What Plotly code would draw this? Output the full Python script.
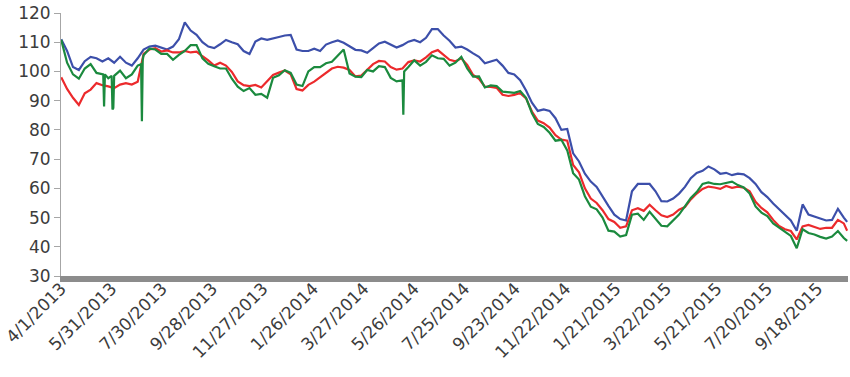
import pandas as pd
import plotly.graph_objects as go

# Weekly observations starting 4/1/2013 (every 7 days)
start_date = "2013-04-01"
n_weeks = 134

blue = [
    111, 107, 101.5, 100.5, 103.5, 105, 104.5, 103.4, 104.5, 103,
    105, 103, 102, 104.5, 107.5, 108.5, 108.8, 108.2, 107.5, 108.5,
    111, 116.8, 114, 112.5, 110, 108.5, 108, 109.3, 110.8, 110,
    109.3, 107, 106, 110.2, 111.3, 110.8, 111.2, 111.8, 112.3, 112.5,
    107.5, 107, 107, 107.8, 107, 109.2, 110, 110.6, 109.8, 108.5,
    107.4, 107.2, 106.4, 108, 109.6, 110.2, 109.2, 108.2, 109, 110.2,
    110.8, 110, 111.5, 114.5, 114.5, 112.3, 110.5, 108.2, 108.5, 107.5,
    106.2, 105, 102.8, 103.3, 104, 102, 99.5, 99, 97, 93.5,
    89.3, 86.5, 87, 86.5, 84, 80, 80.3, 72, 69.2, 65,
    62.3, 60.5, 57, 54, 51, 49.5, 49, 59, 61.5, 61.5,
    61.5, 59, 55.6, 55.5, 56.5, 58.2, 60.5, 63.5, 65.3, 66,
    67.5, 66.5, 65, 65.3, 64.5, 65, 64.8, 63.5, 61.5, 58.7,
    57, 54.8, 52.8, 51, 49, 45.5, 54.5, 51, 50.3, 49.7,
    49, 49.2, 53, 50,
]

red = [
    98, 94, 91, 88.5, 92.5, 93.8, 96, 95.3, 94.9, 94.3,
    95.5, 96, 95.5, 96.5, 106, 107.5, 108, 106.8, 107.2, 106.5,
    106.5, 107, 106.5, 106.8, 105.2, 103.8, 102, 103, 102, 99.8,
    96.6, 95.3, 95, 95.4, 94.5, 96.5, 98.8, 99.6, 100.3, 99,
    94, 93.5, 95.4, 96.5, 98, 99.8, 101, 101.6, 101.3, 100.5,
    98.3, 98.6, 100.5, 102.5, 103.6, 103.4, 101.5, 100.6, 101, 103.2,
    103.8, 103.4, 104.8, 106.6, 107.3, 105.8, 104, 103.5, 104.5, 102.2,
    98.8, 97.5, 94.8, 94.7, 94.4, 92, 91.6, 92, 92.6, 90.8,
    86.3, 83.2, 82.3, 80.8, 78.2, 76.7, 76.3, 68, 65.5, 60,
    56.5, 55, 52.5, 49.5, 48.5, 46.5, 47, 52.5, 53.2, 52.3,
    54.4, 52.5, 50.8, 50.2, 51, 52.7, 53.6, 56.2, 58.2, 59.8,
    60.6, 60.3, 59.8, 60.8, 60.2, 60.6, 60.2, 59, 55.4, 53.3,
    51.8, 49.2, 47.1, 46, 45.4, 42.5, 47, 47.5, 46.9, 46.1,
    46.5, 46.5, 49.2, 48,
]

green = [
    110.8, 103, 99, 97.5, 101, 102.5, 99.5, 99, 97.7, 98.5,
    100.3, 97.7, 99, 102, 105.5, 107.8, 107.5, 106, 106, 104,
    105.7, 107, 109, 109, 104.5, 102.6, 101.8, 101, 101, 97.5,
    94.8, 93.3, 94.3, 92, 92.3, 91, 97.8, 98.7, 100.4, 99.5,
    95.5, 95, 100, 101.5, 101.5, 102.8, 103.3, 105.5, 107.5, 99.3,
    98.2, 98.1, 100.5, 100, 101.8, 101.5, 97.8, 96.6, 97, 101.5,
    103.8, 102, 103.3, 105.5, 104.5, 104.3, 102, 103, 105, 101,
    98.2, 98.3, 94.5, 95.2, 95, 93.1, 92.8, 92.7, 93.3, 91,
    85.7, 82, 81, 79, 76.3, 76.6, 73, 65.2, 63, 57.3,
    53.7, 52.8, 50, 45.5, 45.2, 43.5, 44, 51, 51.3, 49.2,
    52, 49.7, 47.2, 47, 49, 51, 53.8, 56.7, 58.7, 61.5,
    62, 61.5, 61.4, 61.9, 62.3, 61.1, 60.3, 58.2, 53.8, 51.7,
    50.5, 48, 46.5, 45, 43.7, 39.5, 46, 44.7, 44.2, 43.4,
    42.8, 43.5, 45.4, 43,
]

# Additional daily observations (one-day drops and last day)
blue_extra_dates = ["2015-10-23"]
blue_extra = [48.5]
red_extra_dates = ["2015-10-23"]
red_extra = [45.5]
green_extra_dates = [
    "2013-05-21", "2013-05-22", "2013-05-23",
    "2013-05-31", "2013-06-01", "2013-06-02",
    "2013-07-05", "2013-07-06", "2013-07-07",
    "2014-05-13", "2014-05-14",
    "2015-10-23",
]
green_extra = [
    99, 88, 99,
    98.5, 87, 87.5,
    102.5, 83, 104,
    85.2, 100,
    42,
]

tick_labels = [
    "4/1/2013", "5/31/2013", "7/30/2013", "9/28/2013", "11/27/2013",
    "1/26/2014", "3/27/2014", "5/26/2014", "7/25/2014", "9/23/2014",
    "11/22/2014", "1/21/2015", "3/22/2015", "5/21/2015", "7/20/2015",
    "9/18/2015",
]

weekly = pd.date_range(start_date, periods=n_weeks, freq="7D")


def series(vals, extra_dates, extra_vals):
    df = pd.concat([
        pd.DataFrame({"d": weekly, "v": vals}),
        pd.DataFrame({"d": pd.to_datetime(extra_dates), "v": extra_vals}),
    ]).sort_values("d")
    return df["d"], df["v"]


fig = go.Figure()
for vals, ed, ev, col in [
    (blue, blue_extra_dates, blue_extra, "#3C4FAA"),
    (red, red_extra_dates, red_extra, "#EC2A2C"),
    (green, green_extra_dates, green_extra, "#1B8A3E"),
]:
    d, v = series(vals, ed, ev)
    fig.add_trace(go.Scatter(x=d, y=v, mode="lines",
                             line=dict(color=col, width=2.2),
                             showlegend=False, hoverinfo="skip"))

tickvals = pd.to_datetime(tick_labels, format="%m/%d/%Y")

fig.update_layout(
    width=850, height=377,
    margin=dict(l=58, r=2, t=13, b=101),
    paper_bgcolor="white", plot_bgcolor="white",
    font=dict(family="DejaVu Sans", size=17, color="#3c3c3c"),
    showlegend=False,
)
fig.update_xaxes(
    range=[pd.Timestamp("2013-03-31 18:00"), pd.Timestamp("2015-10-24")],
    tickvals=tickvals, ticktext=tick_labels, tickangle=-45,
    showline=True, linecolor="#8c8c8c", linewidth=6,
    ticks="", showgrid=False, zeroline=False,
    ticklabelstandoff=-10, ticklabeloverflow="allow",
)
fig.update_yaxes(
    range=[30, 120], tick0=30, dtick=10,
    showline=True, linecolor="#a6a6a6", linewidth=1,
    ticks="outside", ticklen=6, tickcolor="#a6a6a6",
    showgrid=False, zeroline=False,
)

fig.write_html("out.html")
